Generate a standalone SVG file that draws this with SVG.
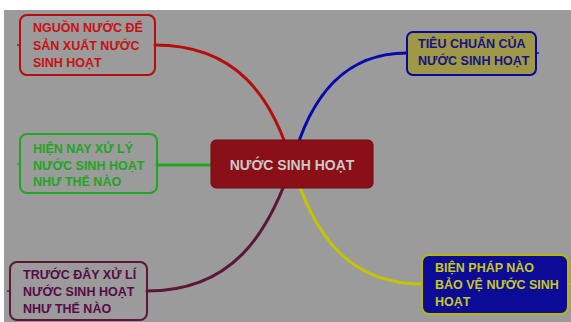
<svg xmlns="http://www.w3.org/2000/svg" width="571" height="322" viewBox="0 0 571 322">
<style>
text{font-family:"Liberation Sans",Arial,sans-serif;font-weight:bold;font-size:12.5px}
.box{stroke-width:2}
.conn{fill:none;stroke-width:3;stroke-linecap:round}
.stub{stroke-width:1.5}
</style>
<rect x="0" y="0" width="571" height="322" fill="#ffffff"/>
<rect x="4" y="10" width="567" height="312" fill="#9b9b9b"/>
<g id="connectors">
<path class="conn" d="M155,45 C235,45 272,95 292,164" stroke="#b80c0c"/>
<path class="conn" d="M407,53 C345,53 310,95 292,164" stroke="#0808b0"/>
<path class="conn" d="M157,165 L211,165" stroke="#1ea81e"/>
<path class="conn" d="M147,291 C232,291 268,235 292,164" stroke="#5c1638"/>
<path class="conn" d="M292,164 C315,240 352,284 422,284" stroke="#c4c400"/>
</g>
<g id="center">
<rect x="211" y="140" width="162" height="48" rx="5" fill="#8a0f16" stroke="#6e0b10" stroke-width="1"/>
<text x="292" y="170" text-anchor="middle" font-size="14" fill="#c9c9c9" style="font-size:14px">NƯỚC SINH HOẠT</text>
</g>
<g id="node-nguon">
<line class="stub" x1="17" y1="45" x2="20" y2="45" stroke="#b80c0c"/>
<rect class="box" x="20" y="15" width="135" height="60" rx="7" fill="none" stroke="#b80c0c"/>
<text fill="#c81010"><tspan x="33" y="32">NGUỒN NƯỚC ĐỂ</tspan><tspan x="33" y="50">SẢN XUẤT NƯỚC</tspan><tspan x="33" y="67">SINH HOẠT</tspan></text>
</g>
<g id="node-tieuchuan">
<line class="stub" x1="536" y1="53" x2="539" y2="53" stroke="#0808b0"/>
<rect class="box" x="407" y="32" width="129" height="43" rx="6" fill="#9f9846" stroke="#0808a0"/>
<text fill="#12128c"><tspan x="418" y="48">TIÊU CHUẨN CỦA</tspan><tspan x="418" y="65">NƯỚC SINH HOẠT</tspan></text>
</g>
<g id="node-hiennay">
<line class="stub" x1="17" y1="164" x2="20" y2="164" stroke="#1ea81e"/>
<rect class="box" x="20" y="134" width="137" height="59" rx="7" fill="none" stroke="#1ea81e"/>
<text fill="#1fa51f"><tspan x="33" y="153">HIỆN NAY XỬ LÝ</tspan><tspan x="33" y="170">NƯỚC SINH HOẠT</tspan><tspan x="33" y="186">NHƯ THẾ NÀO</tspan></text>
</g>
<g id="node-truocday">
<line class="stub" x1="7" y1="291" x2="10" y2="291" stroke="#5c1638"/>
<rect class="box" x="10" y="262" width="137" height="58" rx="7" fill="none" stroke="#5c1638"/>
<text fill="#560a48"><tspan x="23" y="279">TRƯỚC ĐÂY XỬ LÍ</tspan><tspan x="23" y="296">NƯỚC SINH HOẠT</tspan><tspan x="23" y="313">NHƯ THẾ NÀO</tspan></text>
</g>
<g id="node-bienphap">
<line class="stub" x1="568" y1="284" x2="571" y2="284" stroke="#c4c400"/>
<rect class="box" x="422" y="255" width="146" height="59" rx="7" fill="#0b0b98" stroke="#b8b800"/>
<text fill="#c8c820"><tspan x="435" y="272">BIỆN PHÁP NÀO</tspan><tspan x="435" y="289">BẢO VỆ NƯỚC SINH</tspan><tspan x="435" y="306">HOẠT</tspan></text>
</g>
</svg>
